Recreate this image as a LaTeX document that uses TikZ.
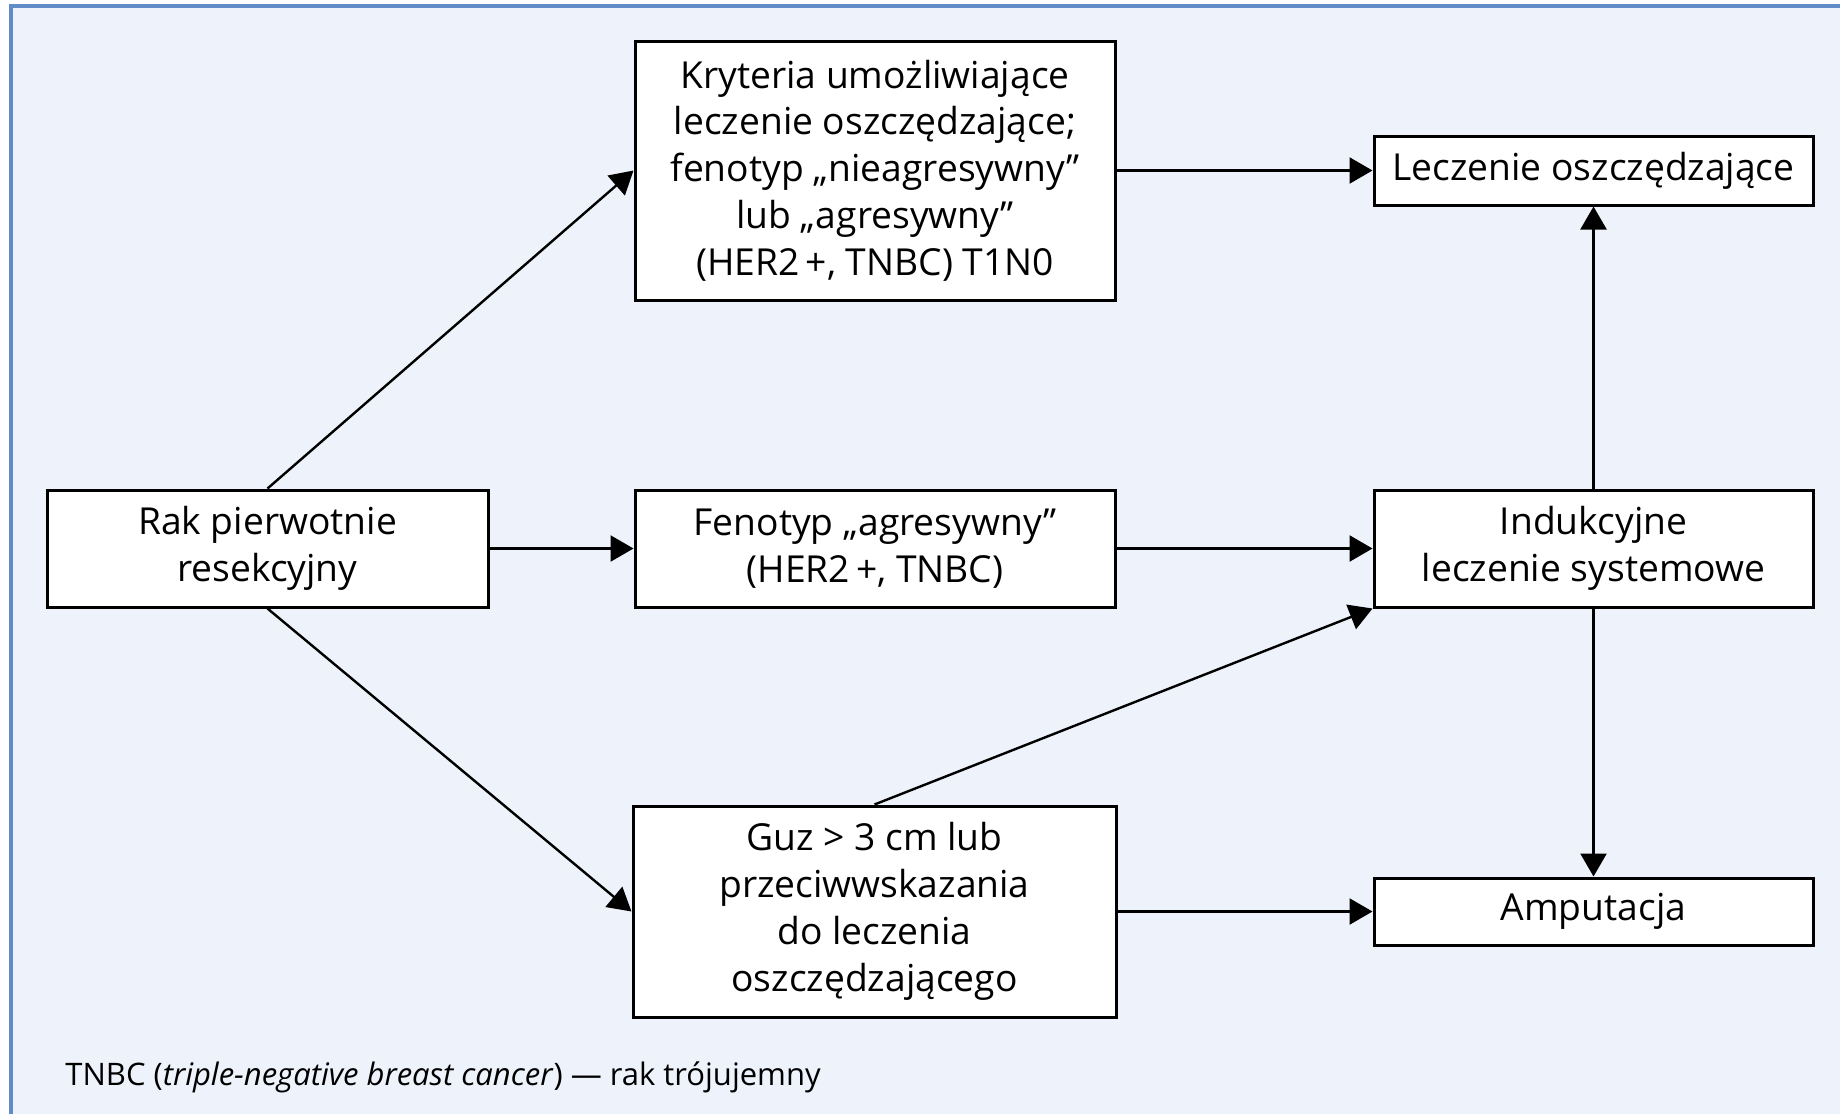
\documentclass[tikz,border=0pt]{standalone}
\usepackage{fontspec}
\setmainfont{Open Sans}
\usetikzlibrary{arrows.meta}
\definecolor{panelbg}{RGB}{238,242,251}
\definecolor{panelframe}{RGB}{96,141,200}
\begin{document}
\begin{tikzpicture}[x=0.5pt,y=-0.5pt,
  box/.style={draw=black, line width=1.5pt, fill=white, inner sep=0pt,
    align=center, font=\fontsize{18.6}{23.4}\selectfont},
  link/.style={line width=1.2pt, -{Triangle[length=11.5pt,width=13pt]}}]
  % canvas and panel
  \useasboundingbox (0,0) rectangle (1840,1114);
  \fill[white] (0,0) rectangle (1840,1114);
  \fill[panelbg] (11,6) rectangle (1840,1114);
  \draw[panelframe, line width=1.6pt] (11,1114) -- (11,6) -- (1840,6);

  % boxes
  \node[box, minimum width=240pt, minimum height=129.5pt] (krit) at (875,170.5)
    {Kryteria umożliwiające\\leczenie oszczędzające;\\fenotyp „nieagresywny”\\lub „agresywny”\\(HER2\,+, TNBC) T1N0};
  \node[box, minimum width=219.5pt, minimum height=34.5pt] (lecz) at (1593.5,170.5)
    {Leczenie oszczędzające};
  \node[box, minimum width=220.5pt, minimum height=58.5pt] (rak) at (267.5,548.5)
    {Rak pierwotnie\\resekcyjny};
  \node[box, minimum width=240pt, minimum height=58.5pt] (fen) at (875,548.5)
    {Fenotyp „agresywny”\\(HER2\,+, TNBC)};
  \node[box, minimum width=219.5pt, minimum height=58.5pt] (ind) at (1593.5,548.5)
    {Indukcyjne\\leczenie systemowe};
  \node[box, minimum width=241.5pt, minimum height=105.5pt] (guz) at (874.5,911.5)
    {Guz > 3 cm lub\\przeciwwskazania\\do leczenia\\oszczędzającego};
  \node[box, minimum width=219.5pt, minimum height=33.5pt] (amp) at (1593.5,911.5)
    {Amputacja};

  % connectors
  \draw[link] (rak.north) -- (krit.west);
  \draw[link] (rak.east) -- (fen.west);
  \draw[link] (rak.south) -- (guz.west);
  \draw[link] (krit.east) -- (lecz.west);
  \draw[link] (fen.east) -- (ind.west);
  \draw[link] (guz.north) -- (ind.south west);
  \draw[link] (guz.east) -- (amp.west);
  \draw[link] (ind.north) -- (lecz.south);
  \draw[link] (ind.south) -- (amp.north);

  % footnote
  \node[anchor=base west, inner sep=0pt, font=\fontsize{15.5}{18}\selectfont] (note) at (65,1085)
    {TNBC (\textit{triple-negative breast cancer}) — rak trójujemny};
\end{tikzpicture}
\end{document}
